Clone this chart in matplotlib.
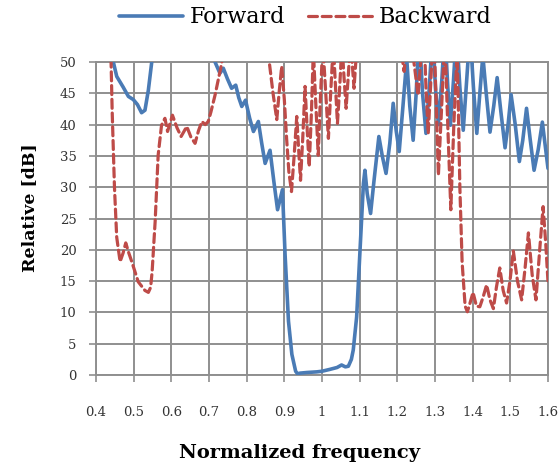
import matplotlib
matplotlib.use("Agg")
import matplotlib.pyplot as plt

# ---- data ----
fwd_x = [0.438, 0.446, 0.455, 0.472, 0.486, 0.499, 0.510, 0.521, 0.530, 0.539, 0.548, 0.556,
         0.62, 0.68, 0.705, 0.716, 0.729, 0.738, 0.749, 0.760, 0.771, 0.779, 0.787, 0.797,
         0.808, 0.818, 0.831, 0.840, 0.849, 0.862, 0.872, 0.882, 0.895, 0.902, 0.911,
         0.920, 0.930, 0.935, 0.942, 0.960, 0.986, 1.000, 1.021, 1.040, 1.052, 1.062,
         1.070, 1.078, 1.083, 1.092, 1.101, 1.110, 1.114, 1.120, 1.129, 1.138, 1.151,
         1.160, 1.170, 1.180, 1.189, 1.197, 1.205, 1.215, 1.225, 1.233, 1.242, 1.250,
         1.258, 1.267, 1.276, 1.285, 1.294, 1.301, 1.309, 1.318, 1.326, 1.334, 1.341,
         1.349, 1.357, 1.366, 1.375, 1.384, 1.393, 1.402, 1.411, 1.419, 1.427, 1.436,
         1.446, 1.456, 1.465, 1.475, 1.486, 1.494, 1.502, 1.513, 1.524, 1.533, 1.543,
         1.553, 1.563, 1.574, 1.585, 1.600]
fwd_y = [55.0, 50.0, 47.7, 46.0, 44.5, 44.0, 43.2, 41.9, 42.3, 45.5, 50.0, 56.0,
         60.0, 60.0, 53.0, 50.0, 48.2, 49.0, 47.3, 45.8, 46.3, 44.3, 42.9, 43.9,
         41.0, 38.9, 40.5, 37.0, 33.8, 35.9, 31.0, 26.4, 29.6, 19.2, 8.6,
         3.3, 0.6, 0.2, 0.3, 0.4, 0.5, 0.6, 0.9, 1.2, 1.6, 1.3,
         1.4, 2.5, 4.0, 9.3, 20.0, 30.6, 32.7, 29.0, 25.8, 31.0, 38.1,
         35.0, 32.2, 37.0, 43.4, 39.0, 35.7, 43.0, 50.5, 43.0, 37.5, 45.0,
         55.0, 45.0, 38.6, 46.0, 55.0, 46.0, 40.0, 47.0, 55.0, 46.0, 39.9,
         47.0, 55.0, 46.0, 39.1, 47.0, 55.0, 46.0, 38.6, 45.0, 51.0, 45.0,
         38.8, 43.0, 47.5, 42.0, 36.3, 40.0, 44.8, 40.0, 34.1, 37.5, 42.6,
         37.5, 32.7, 36.0, 40.4, 33.0]

bwd_x = [0.436, 0.440, 0.443, 0.449, 0.455, 0.464, 0.472, 0.479, 0.487, 0.495, 0.512, 0.530,
         0.539, 0.545, 0.549, 0.557, 0.561, 0.565, 0.574, 0.583, 0.590, 0.603, 0.615, 0.626,
         0.641, 0.652, 0.663, 0.672, 0.681, 0.690, 0.698, 0.705, 0.716, 0.732, 0.740,
         0.80, 0.852, 0.860, 0.870, 0.880, 0.886, 0.893, 0.900, 0.906, 0.912, 0.919,
         0.926, 0.933, 0.938, 0.943, 0.949, 0.955, 0.960, 0.966, 0.972, 0.977, 0.983,
         0.990, 0.995, 1.002, 1.009, 1.017, 1.023, 1.030, 1.035, 1.041, 1.047, 1.053,
         1.058, 1.064, 1.070, 1.076, 1.080, 1.085, 1.092, 1.100, 1.200, 1.210, 1.218,
         1.224, 1.233, 1.244, 1.255, 1.262, 1.270, 1.276, 1.282, 1.289, 1.296, 1.303,
         1.309, 1.317, 1.326, 1.335, 1.342, 1.350, 1.359, 1.366, 1.372, 1.380, 1.386,
         1.393, 1.401, 1.410, 1.419, 1.428, 1.437, 1.446, 1.455, 1.463, 1.472, 1.481,
         1.490, 1.499, 1.508, 1.519, 1.530, 1.539, 1.548, 1.558, 1.568, 1.578, 1.587,
         1.594, 1.600]
bwd_y = [55.0, 50.0, 42.0, 30.0, 22.0, 18.1, 19.5, 21.1, 19.5, 18.1, 14.9, 13.5,
         13.2, 14.0, 16.5, 24.5, 29.8, 35.1, 39.9, 41.0, 38.9, 41.5, 39.5, 38.1,
         39.7, 38.0, 37.0, 39.0, 40.5, 40.0, 40.5, 42.0, 44.7, 49.3, 52.0,
         60.0, 53.0, 50.0, 45.0, 40.8, 45.0, 49.3, 44.0, 37.8, 32.5, 29.3,
         35.0, 41.3, 36.0, 31.1, 38.0, 46.1, 40.0, 33.3, 42.0, 52.0, 44.0,
         35.1, 43.0, 53.0, 46.0, 37.8, 45.0, 53.0, 47.0, 40.2, 46.0, 53.0,
         48.0, 42.6, 48.0, 54.0, 50.0, 45.8, 52.0, 58.0, 58.0, 52.0, 48.5,
         52.0, 56.0, 50.0, 44.7, 50.0, 56.0, 46.0, 38.6, 47.0, 56.0, 44.0,
         31.9, 42.0, 54.0, 38.0, 26.4, 40.0, 52.0, 30.0, 18.0, 11.0, 10.1,
         11.5, 13.2, 11.0, 10.9, 12.5, 14.4, 12.0, 10.6, 14.0, 17.1, 13.5,
         11.5, 15.0, 19.8, 15.0, 12.0, 17.0, 22.7, 16.0, 12.0, 20.0, 26.9,
         21.0, 14.9]

x_ticks = [0.4, 0.5, 0.6, 0.7, 0.8, 0.9, 1.0, 1.1, 1.2, 1.3, 1.4, 1.5, 1.6]
x_tick_labels = ["0.4", "0.5", "0.6", "0.7", "0.8", "0.9", "1", "1.1", "1.2", "1.3", "1.4", "1.5", "1.6"]
y_ticks = [0, 5, 10, 15, 20, 25, 30, 35, 40, 45, 50]

grid_c = '#8f8f8f'
plt.rcParams['font.family'] = ['DejaVu Serif']

fig = plt.figure(figsize=(5.6, 4.68), dpi=100)
ax = fig.add_axes([96/560, 1-375/468, 452/560, 313/468])

ax.set_xlim(0.4, 1.6)
ax.set_ylim(0, 50)
ax.set_xticks(x_ticks)
ax.set_xticklabels(x_tick_labels)
ax.set_yticks(y_ticks)
for s in ax.spines.values():
    s.set_color(grid_c)
    s.set_linewidth(1.4)
ax.tick_params(axis='both', direction='out', length=5, width=1.2, color=grid_c,
               labelsize=9.5, labelcolor='#333333',
               grid_color=grid_c, grid_linewidth=1.4, grid_alpha=1.0)
ax.tick_params(axis='x', pad=17)
ax.tick_params(axis='y', pad=9)
ax.xaxis.grid(True)
ax.yaxis.grid(True)

l1, = ax.plot(fwd_x, fwd_y, color='#4a7bb5', lw=2.6, solid_joinstyle='round',
              solid_capstyle='round', label='Forward', zorder=3)
l2, = ax.plot(bwd_x, bwd_y, color='#be4b48', lw=2.3, linestyle=(0, (2.8, 1.5)),
              dash_capstyle='round', label='Backward', zorder=4)

ax.set_xlabel('Normalized frequency', fontsize=14, fontweight='bold', va='center')
ax.xaxis.set_label_coords(0.451, -0.25)
ax.set_ylabel('Relative [dB]', fontsize=12.5, fontweight='bold', va='center')
ax.yaxis.set_label_coords(-0.148, 0.534)

fig.legend(handles=[l1, l2], loc='center', bbox_to_anchor=(0.545, 0.963), ncol=2,
           frameon=False, fontsize=16, handlelength=2.9, handletextpad=0.3,
           columnspacing=1.0)

fig.savefig('out.png', dpi=100, facecolor='white')
